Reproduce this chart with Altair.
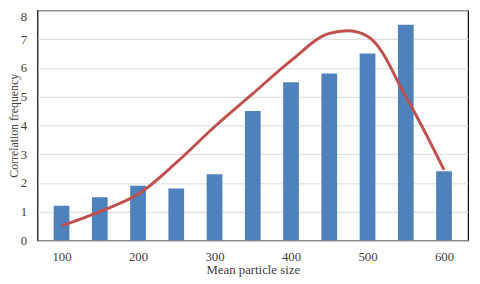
import altair as alt
import pandas as pd

sizes = [100, 150, 200, 250, 300, 350, 400, 450, 500, 550, 600]
freq = [1.2, 1.5, 1.9, 1.8, 2.3, 4.5, 5.5, 5.8, 6.5, 7.5, 2.4]
curve = [0.5, 1.0, 1.6, 2.7, 3.95, 5.1, 6.25, 7.2, 7.1, 5.0, 2.45]
x_ticks = [100, 200, 300, 400, 500, 600]
y_ticks = [0, 1, 2, 3, 4, 5, 6, 7, 8]

df = pd.DataFrame({"size": sizes, "freq": freq, "curve": curve})

FONT = "Liberation Serif"

x_scale = alt.Scale(domain=[75, 625], nice=False, zero=False)
y_scale = alt.Scale(domain=[0, 8], nice=False)
x_axis = alt.Axis(values=x_ticks, title="Mean particle size", grid=False,
                  ticks=False, domain=False, labelPadding=10, titlePadding=1,
                  labelOverlap=False)
y_axis = alt.Axis(values=y_ticks, title="Correlation frequency",
                  grid=True, gridColor="#D9D9D9", gridWidth=1, ticks=False,
                  domain=False, labelPadding=11,
                  titleX=-24.5, titleBaseline="middle", titleFontSize=12,
                  labelOverlap=False, tickCount=9,
                  labelBaseline={"condition": {"test": "datum.value == 8", "value": "top"},
                                 "value": "middle"})

bars = alt.Chart(df).mark_bar(color="#4F81BD", size=16).encode(
    x=alt.X("size:Q", scale=x_scale, axis=x_axis),
    y=alt.Y("freq:Q", scale=y_scale, axis=y_axis))
line = alt.Chart(df).mark_line(color="#C0504D", strokeWidth=3,
                               interpolate="catmull-rom").encode(
    x=alt.X("size:Q", scale=x_scale, axis=x_axis),
    y=alt.Y("curve:Q", scale=y_scale, axis=y_axis))

chart = (bars + line).properties(
    width=438, height=234,
    autosize=alt.AutoSizeParams(type="none"),
    padding={"left": 30, "top": 0, "right": 4, "bottom": 40},
).configure_view(stroke="black", strokeWidth=1.2).configure_axis(
    labelFont=FONT, titleFont=FONT, labelFontSize=13, titleFontSize=13,
    labelColor="#404040", titleColor="#404040", titleFontWeight="normal"
)

chart.save("out.html", embed_options={"renderer": "svg", "actions": False})
